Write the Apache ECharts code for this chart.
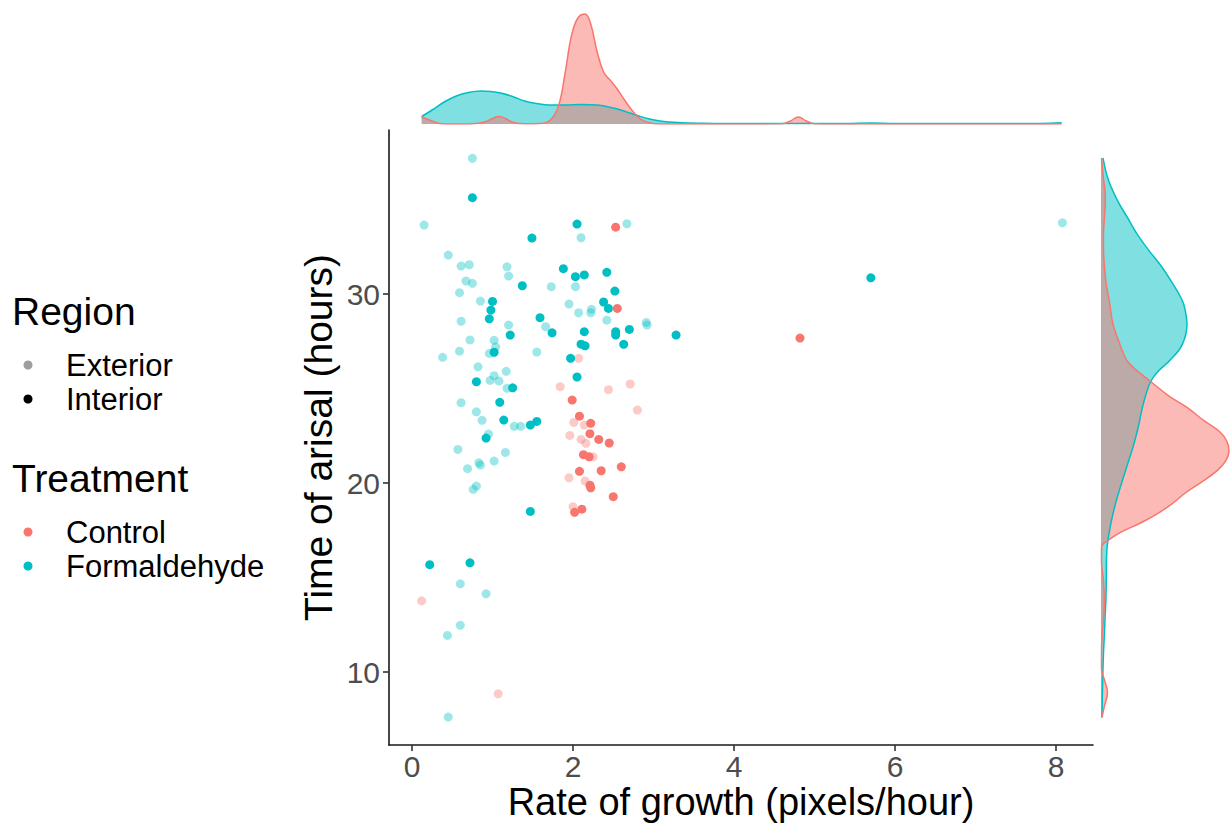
<!DOCTYPE html>
<html><head><meta charset="utf-8">
<script src="https://cdn.jsdelivr.net/npm/echarts@6/dist/echarts.min.js"></script>
<style>html,body{margin:0;padding:0;background:#fff;}#chart{width:1232px;height:824px;}</style>
</head><body><div id="chart"></div>
<script>
// ---- Data ----
// [rate of growth (pixels/hour), time of arisal (hours)]
const formaldehydeInterior = [[0.75,35.10],[2.05,33.70],[1.49,32.96],[1.88,31.34],[2.03,30.92],[2.14,31.01],[2.42,31.15],[1.37,30.44],[2.52,30.16],[1.00,29.61],[0.98,29.15],[0.96,28.69],[2.38,29.58],[2.44,29.24],[1.59,28.75],[1.74,27.95],[2.14,28.01],[2.53,28.01],[2.53,27.83],[2.70,28.13],[1.22,27.83],[3.28,27.83],[2.10,27.35],[2.15,27.26],[2.63,27.34],[5.70,30.86],[1.02,26.92],[1.97,26.60],[2.05,25.61],[0.80,25.36],[1.25,25.04],[1.09,24.27],[1.14,23.33],[1.47,23.07],[1.55,23.26],[0.92,22.38],[1.47,18.50],[0.22,15.68],[0.72,15.78]];
const formaldehydeExterior = [[0.75,37.18],[0.15,33.65],[2.67,33.72],[2.10,32.98],[0.45,32.06],[0.61,31.48],[0.71,31.55],[1.18,31.44],[1.20,30.95],[0.67,30.69],[0.75,30.57],[1.73,30.39],[2.03,30.39],[0.59,30.07],[0.85,29.63],[1.95,29.47],[2.07,29.01],[2.22,29.01],[2.23,29.19],[2.42,28.62],[0.61,28.56],[1.20,28.36],[1.66,28.27],[0.72,27.57],[1.02,27.55],[1.04,27.21],[2.91,28.50],[2.92,28.36],[1.55,26.93],[0.59,26.98],[0.96,26.86],[0.38,26.65],[0.82,26.15],[1.17,25.91],[1.02,25.68],[0.97,25.43],[1.08,25.40],[1.18,25.01],[0.61,24.25],[0.80,23.77],[0.87,23.32],[1.27,23.00],[1.35,23.00],[0.95,22.59],[0.57,21.78],[1.16,21.62],[0.83,21.07],[0.85,20.95],[1.02,21.16],[0.69,20.76],[0.80,19.84],[0.76,19.67],[8.08,33.77],[0.60,14.67],[0.92,14.14],[0.60,12.47],[0.44,11.94],[0.45,7.62]];
const controlInterior = [[2.53,33.54],[2.55,29.24],[1.99,24.39],[2.08,23.54],[2.22,23.16],[2.21,22.61],[2.32,22.31],[2.45,22.12],[2.13,21.50],[2.20,21.39],[2.08,20.62],[2.35,20.65],[2.60,20.86],[2.21,19.89],[2.22,19.75],[2.50,19.28],[2.02,18.45],[2.11,18.62],[4.82,27.67]];
const controlExterior = [[2.07,26.60],[1.84,25.10],[2.44,24.94],[2.71,25.24],[2.80,23.86],[2.01,23.21],[2.14,23.07],[1.96,22.52],[2.10,22.31],[2.16,22.10],[2.25,21.39],[1.95,20.28],[2.15,20.11],[2.00,18.75],[0.12,13.77],[1.07,8.85]];

// Marginal densities (relative height)
// top: [rate, density]
const controlTopDensity = [[0.12,7],[0.25,3],[0.34,0.5],[0.5,0],[0.75,0.3],[0.9,2],[1.0,5.5],[1.08,7.5],[1.16,5.5],[1.26,1.5],[1.4,0.2],[1.6,0.5],[1.72,4],[1.82,18],[1.9,50],[1.98,88],[2.06,106],[2.15,110],[2.22,100],[2.3,72],[2.38,52],[2.46,44],[2.54,36],[2.64,24],[2.74,13],[2.84,5],[2.96,1],[3.1,0],[4.0,0],[4.6,0.3],[4.7,3],[4.8,7],[4.9,3],[5.0,0.3],[5.2,0],[8.07,0]];
const formaldehydeTopDensity = [[0.12,7.5],[0.25,14],[0.4,22],[0.55,28],[0.7,31.5],[0.85,33],[0.98,32.5],[1.1,31],[1.25,27.5],[1.4,23],[1.55,20.5],[1.7,19],[1.9,19],[2.1,19.5],[2.3,19],[2.5,16],[2.65,12.5],[2.8,8.5],[2.95,5],[3.1,2.8],[3.3,1.5],[3.6,0.8],[4.0,0.5],[4.5,0.4],[5.0,0.4],[5.4,0.6],[5.7,1],[6.0,0.5],[7.0,0.4],[7.8,0.6],[8.07,1.2]];
// right: [time (hours), density]
const controlRightDensity = [[7.6,1],[8.2,3.4],[8.9,6.5],[9.5,4],[10.2,0.5],[11,0.5],[11.8,1],[12.8,2.5],[13.8,3.4],[14.8,2.5],[15.85,0.5],[16.5,0.5],[16.7,1],[17.0,8],[17.4,20],[17.9,40],[18.4,57],[18.9,71],[19.5,85],[20.1,102],[20.7,117],[21.2,125],[21.7,128],[22.2,126],[22.7,119],[23.3,103],[24.0,86],[24.6,68],[25.4,49],[25.9,37],[26.4,27],[26.9,22],[27.4,18.5],[28.4,12],[29.6,8.4],[30.6,5],[31.5,3.4],[32.3,2.5],[33.1,2.4],[34.0,3.4],[35.1,4.4],[36.1,2.5],[37.2,0.5]];
const formaldehydeRightDensity = [[7.6,1],[8.6,1.3],[9.8,1.8],[11,2.5],[12,3.4],[13,4.2],[14,5],[15,5.3],[16,5.5],[16.8,6.5],[17.9,10],[18.9,14.5],[19.9,20],[20.9,26],[21.9,32],[22.9,37],[23.9,41],[24.7,45],[25.4,50],[25.9,57],[26.5,69],[27.3,81],[28.4,86],[29.2,84],[29.7,81],[30.7,70],[31.5,60],[32.3,48],[33.1,37],[34.0,27],[35.0,16],[36.1,7],[37.2,2]];

const xTicks = [0, 2, 4, 6, 8];
const yTicks = [10, 20, 30];
const regionLegend = ['Exterior', 'Interior'];
const treatmentLegend = ['Control', 'Formaldehyde'];

// ---- Chart ----
const RED = '#F8766D', CYAN = '#00BFC4';
const X_MIN = -0.286, X_MAX = 8.46, Y_MIN = 6.14, Y_MAX = 38.68;
const HOUR_MS = 3600000;
const FONT = 'Liberation Sans';
const EXT_OPACITY = 0.38;

const chart = echarts.init(document.getElementById('chart'), null, {renderer: 'svg'});

function scatter(name, data, color, opacity) {
  return {name, type: 'scatter', xAxisIndex: 0, yAxisIndex: 0, data, symbol: 'circle', symbolSize: 9,
    itemStyle: {color, opacity}, silent: true};
}
function topDensity(name, data, color) {
  return {name, type: 'line', xAxisIndex: 1, yAxisIndex: 1, data, smooth: 0.4, symbol: 'none',
    lineStyle: {color, width: 1.5}, areaStyle: {color, opacity: 0.5}, silent: true};
}
function rightDensity(name, data, color) {
  return {name, type: 'line', xAxisIndex: 2, yAxisIndex: 2,
    data: data.map(d => [d[1], d[0] * HOUR_MS]), smooth: 0.4, symbol: 'none',
    lineStyle: {color, width: 1.5}, areaStyle: {color, opacity: 0.5}, silent: true};
}

const legendY = {Region: 311, Exterior: 365, Interior: 399, Treatment: 478, Control: 532, Formaldehyde: 566};
const legendDot = {Exterior: 'rgba(0,0,0,0.38)', Interior: '#000', Control: RED, Formaldehyde: CYAN};
const graphic = [];
['Region', 'Treatment'].forEach(t => graphic.push({type: 'text', x: 12, y: legendY[t],
  style: {text: t, fontSize: 39, fontFamily: FONT, fill: '#000', verticalAlign: 'middle'}}));
regionLegend.concat(treatmentLegend).forEach(t => {
  graphic.push({type: 'circle', shape: {cx: 28, cy: legendY[t], r: 4.5}, style: {fill: legendDot[t]}});
  graphic.push({type: 'text', x: 66, y: legendY[t],
    style: {text: t, fontSize: 31, fontFamily: FONT, fill: '#000', verticalAlign: 'middle'}});
});

const axisLineStyle = {color: '#1a1a1a', width: 1.6};
chart.setOption({
  animation: false,
  backgroundColor: '#fff',
  textStyle: {fontFamily: FONT},
  grid: [
    {left: 389, top: 130, width: 704, height: 615, outerBoundsMode: 'none', containLabel: false},
    {left: 389, top: 10, width: 704, height: 114, outerBoundsMode: 'none', containLabel: false},
    {left: 1101, top: 130, width: 131, height: 615, outerBoundsMode: 'none', containLabel: false}
  ],
  xAxis: [
    {gridIndex: 0, type: 'value', min: X_MIN, max: X_MAX,
      axisLine: {onZero: false, lineStyle: axisLineStyle},
      axisTick: {customValues: xTicks, length: 6, lineStyle: {color: '#333', width: 1.6}},
      axisLabel: {customValues: xTicks, color: '#4D4D4D', fontSize: 30, lineHeight: 28, margin: 7, fontFamily: FONT},
      splitLine: {show: false},
      name: 'Rate of growth (pixels/hour)', nameLocation: 'middle', nameGap: 39, nameMoveOverlap: false,
      nameTextStyle: {fontSize: 38, color: '#000', fontFamily: FONT, lineHeight: 36}},
    {gridIndex: 1, type: 'value', min: X_MIN, max: X_MAX, show: false},
    {gridIndex: 2, type: 'value', min: 0, max: 131, show: false}
  ],
  yAxis: [
    {gridIndex: 0, type: 'value', min: Y_MIN, max: Y_MAX,
      axisLine: {show: true, onZero: false, lineStyle: axisLineStyle},
      axisTick: {show: true, customValues: yTicks, length: 6, lineStyle: {color: '#333', width: 1.6}},
      axisLabel: {customValues: yTicks, color: '#4D4D4D', fontSize: 30, margin: 9, fontFamily: FONT},
      splitLine: {show: false},
      name: 'Time of arisal (hours)', nameLocation: 'middle', nameGap: 51, nameRotate: 90, nameMoveOverlap: false,
      nameTextStyle: {fontSize: 39, color: '#000', fontFamily: FONT}},
    {gridIndex: 1, type: 'value', min: 0, max: 114, show: false},
    {gridIndex: 2, type: 'time', min: Y_MIN * HOUR_MS, max: Y_MAX * HOUR_MS, show: false}
  ],
  series: [
    topDensity('Formaldehyde', formaldehydeTopDensity, CYAN),
    topDensity('Control', controlTopDensity, RED),
    rightDensity('Formaldehyde', formaldehydeRightDensity, CYAN),
    rightDensity('Control', controlRightDensity, RED),
    scatter('Formaldehyde Exterior', formaldehydeExterior, CYAN, EXT_OPACITY),
    scatter('Control Exterior', controlExterior, RED, EXT_OPACITY),
    scatter('Formaldehyde Interior', formaldehydeInterior, CYAN, 1),
    scatter('Control Interior', controlInterior, RED, 1)
  ],
  graphic
});
</script></body></html>
